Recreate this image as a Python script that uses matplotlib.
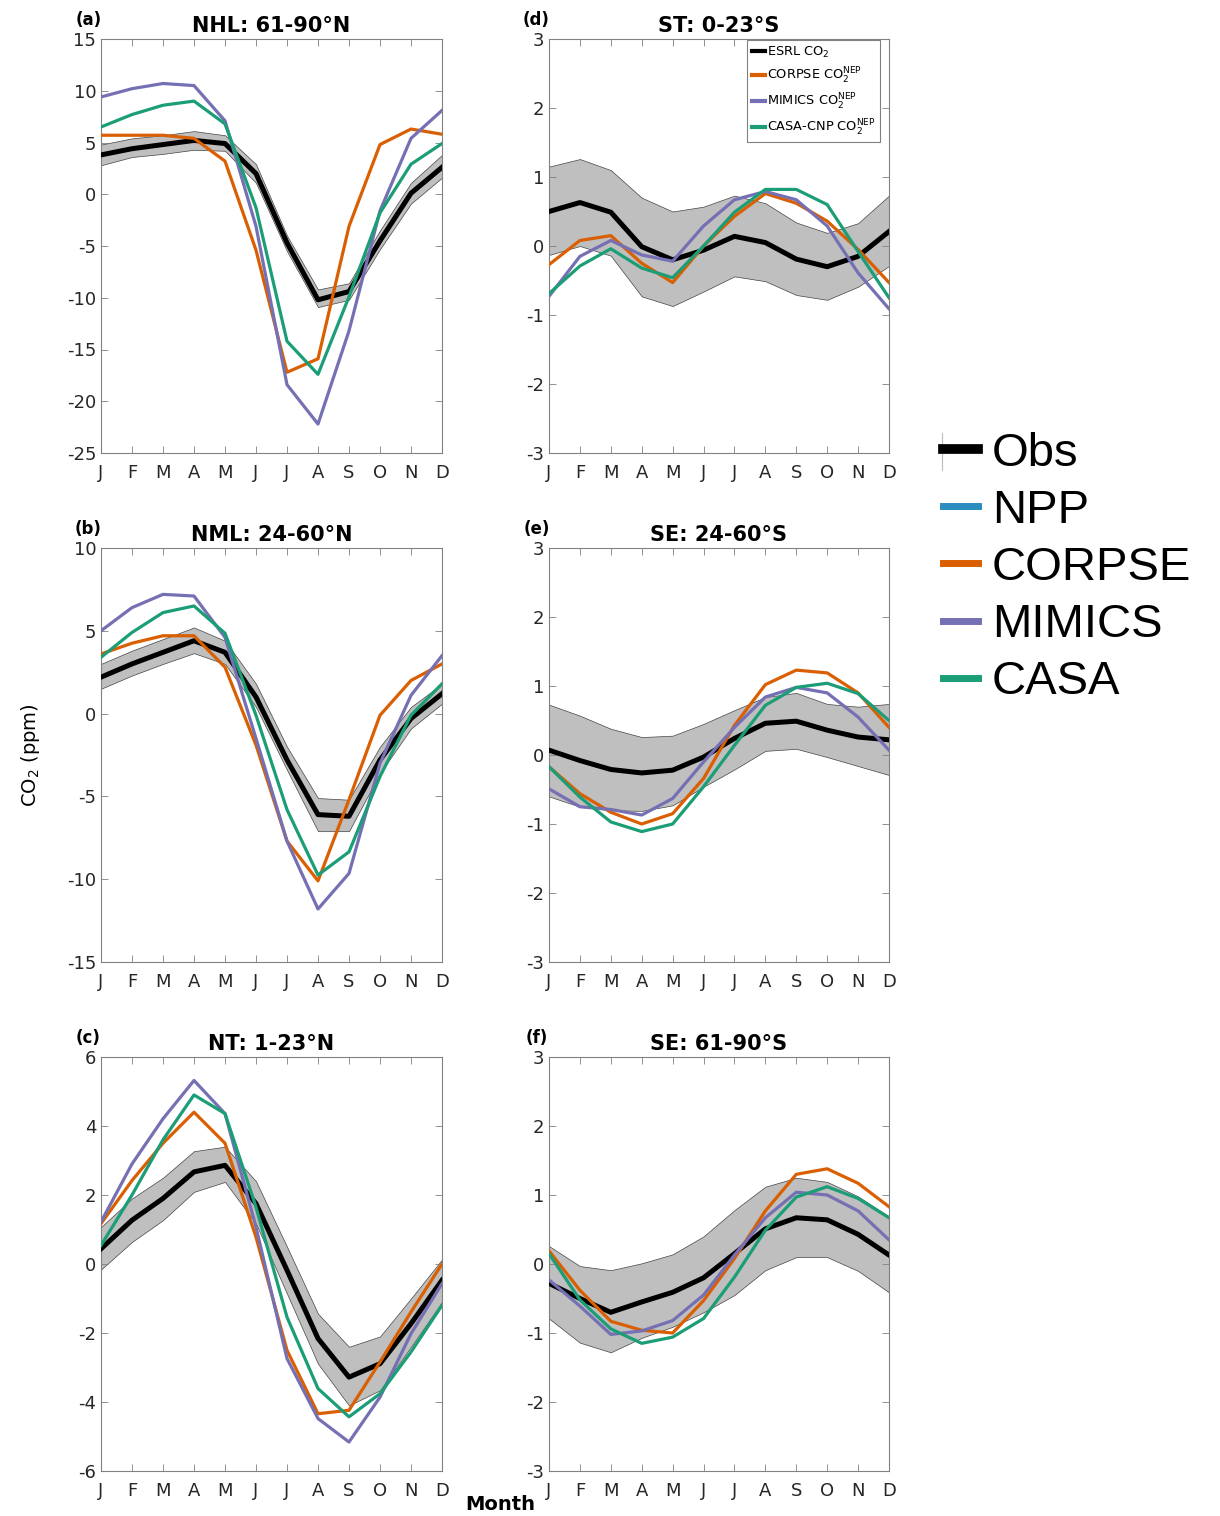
import matplotlib
matplotlib.use('Agg')
import matplotlib.pyplot as plt
from matplotlib.lines import Line2D

plt.rcParams['font.family'] = ['DejaVu Sans']
plt.rcParams['axes.unicode_minus'] = False

months = list(range(1, 13))
month_labels = ['J', 'F', 'M', 'A', 'M', 'J', 'J', 'A', 'S', 'O', 'N', 'D']

# panel (a) NHL
a_obs = [3.8, 4.4, 4.8, 5.2, 4.9, 2.0, -4.7, -10.2, -9.4, -4.5, 0.1, 2.6]
a_hi = [4.8, 5.4, 5.7, 6.1, 5.7, 2.9, -4.0, -9.2, -8.6, -3.5, 1.1, 3.8]
a_lo = [2.8, 3.6, 3.9, 4.3, 4.2, 1.1, -5.5, -10.9, -10.2, -5.3, -0.9, 1.6]
a_corpse = [5.7, 5.7, 5.7, 5.4, 3.2, -5.4, -17.2, -15.9, -3.1, 4.8, 6.3, 5.8]
a_mimics = [9.4, 10.2, 10.7, 10.5, 7.1, -3.1, -18.4, -22.2, -13.2, -1.6, 5.4, 8.1]
a_casa = [6.5, 7.7, 8.6, 9.0, 6.8, -1.3, -14.2, -17.4, -9.9, -1.8, 2.9, 4.9]

# panel (b) NML
b_obs = [2.2, 3.0, 3.7, 4.4, 3.7, 1.0, -2.8, -6.1, -6.2, -2.8, -0.3, 1.2]
b_hi = [3.0, 3.8, 4.5, 5.2, 4.4, 1.8, -2.0, -5.1, -5.2, -2.0, 0.4, 1.8]
b_lo = [1.5, 2.3, 3.0, 3.65, 3.0, 0.4, -3.4, -7.1, -7.1, -3.6, -0.9, 0.6]
b_corpse = [3.6, 4.25, 4.7, 4.7, 2.8, -1.9, -7.7, -10.1, -5.2, -0.1, 2.0, 3.0]
b_mimics = [5.0, 6.4, 7.2, 7.1, 4.6, -1.5, -7.7, -11.8, -9.65, -3.0, 1.1, 3.5]
b_casa = [3.4, 4.9, 6.1, 6.5, 4.85, -0.1, -5.8, -9.75, -8.35, -3.8, -0.1, 1.8]

# panel (c) NT
c_obs = [0.44, 1.27, 1.9, 2.67, 2.86, 1.75, -0.18, -2.16, -3.28, -2.89, -1.73, -0.47]
c_hi = [1.07, 1.9, 2.5, 3.27, 3.4, 2.4, 0.5, -1.44, -2.4, -2.1, -1.0, 0.13]
c_lo = [-0.16, 0.64, 1.27, 2.09, 2.38, 1.17, -0.86, -2.89, -4.1, -3.66, -2.4, -1.1]
c_corpse = [1.17, 2.42, 3.5, 4.4, 3.5, 0.78, -2.5, -4.34, -4.24, -2.84, -1.39, 0.0]
c_mimics = [1.22, 2.9, 4.21, 5.32, 4.36, 1.07, -2.74, -4.48, -5.16, -3.86, -2.02, -0.57]
c_casa = [0.54, 2.0, 3.6, 4.9, 4.36, 1.65, -1.54, -3.61, -4.43, -3.76, -2.55, -1.2]

# panel (d) ST
d_obs = [0.50, 0.63, 0.49, -0.01, -0.2, -0.06, 0.14, 0.05, -0.19, -0.30, -0.15, 0.21]
d_hi = [1.15, 1.26, 1.10, 0.70, 0.50, 0.57, 0.73, 0.62, 0.34, 0.19, 0.33, 0.73]
d_lo = [-0.13, 0.0, -0.14, -0.73, -0.87, -0.66, -0.44, -0.51, -0.71, -0.78, -0.59, -0.29]
d_corpse = [-0.27, 0.08, 0.15, -0.25, -0.53, 0.0, 0.43, 0.76, 0.62, 0.36, -0.05, -0.53]
d_mimics = [-0.73, -0.15, 0.08, -0.13, -0.22, 0.29, 0.67, 0.79, 0.67, 0.29, -0.39, -0.91]
d_casa = [-0.69, -0.29, -0.04, -0.32, -0.46, 0.0, 0.49, 0.82, 0.82, 0.60, -0.08, -0.75]

# panel (e) SE 24-60S
e_obs = [0.07, -0.08, -0.21, -0.26, -0.22, -0.03, 0.24, 0.46, 0.49, 0.36, 0.26, 0.22]
e_hi = [0.73, 0.57, 0.38, 0.26, 0.28, 0.45, 0.65, 0.84, 0.90, 0.74, 0.70, 0.74]
e_lo = [-0.60, -0.75, -0.80, -0.81, -0.73, -0.46, -0.21, 0.06, 0.09, -0.03, -0.16, -0.29]
e_corpse = [-0.17, -0.56, -0.83, -1.0, -0.85, -0.34, 0.43, 1.02, 1.23, 1.19, 0.90, 0.40]
e_mimics = [-0.49, -0.75, -0.79, -0.87, -0.63, -0.10, 0.40, 0.84, 0.98, 0.90, 0.55, 0.07]
e_casa = [-0.17, -0.61, -0.97, -1.11, -1.0, -0.46, 0.14, 0.72, 0.98, 1.04, 0.89, 0.50]

# panel (f) SE 61-90S
f_obs = [-0.28, -0.50, -0.70, -0.55, -0.41, -0.20, 0.15, 0.51, 0.67, 0.64, 0.43, 0.13]
f_hi = [0.26, -0.03, -0.09, 0.01, 0.14, 0.40, 0.78, 1.12, 1.25, 1.19, 0.98, 0.69]
f_lo = [-0.79, -1.14, -1.28, -1.07, -0.91, -0.70, -0.45, -0.09, 0.10, 0.10, -0.10, -0.41]
f_corpse = [0.19, -0.38, -0.83, -0.96, -1.0, -0.53, 0.08, 0.77, 1.30, 1.38, 1.17, 0.83]
f_mimics = [-0.23, -0.61, -1.02, -0.97, -0.82, -0.45, 0.13, 0.67, 1.04, 1.0, 0.77, 0.35]
f_casa = [0.15, -0.52, -0.94, -1.15, -1.06, -0.79, -0.19, 0.49, 0.97, 1.12, 0.95, 0.67]

c_corpse_col = '#d95f02'
c_mimics_col = '#7570b3'
c_casa_col = '#1b9e77'
c_npp_col = '#2b8cbe'

panels = [
    ('(a)', 'NHL: 61-90°N', (-25, 15), [15, 10, 5, 0, -5, -10, -15, -20, -25],
     a_obs, a_hi, a_lo, a_corpse, a_mimics, a_casa),
    ('(b)', 'NML: 24-60°N', (-15, 10), [10, 5, 0, -5, -10, -15],
     b_obs, b_hi, b_lo, b_corpse, b_mimics, b_casa),
    ('(c)', 'NT: 1-23°N', (-6, 6), [6, 4, 2, 0, -2, -4, -6],
     c_obs, c_hi, c_lo, c_corpse, c_mimics, c_casa),
    ('(d)', 'ST: 0-23°S', (-3, 3), [3, 2, 1, 0, -1, -2, -3],
     d_obs, d_hi, d_lo, d_corpse, d_mimics, d_casa),
    ('(e)', 'SE: 24-60°S', (-3, 3), [3, 2, 1, 0, -1, -2, -3],
     e_obs, e_hi, e_lo, e_corpse, e_mimics, e_casa),
    ('(f)', 'SE: 61-90°S', (-3, 3), [3, 2, 1, 0, -1, -2, -3],
     f_obs, f_hi, f_lo, f_corpse, f_mimics, f_casa),
]

W, H = 1220, 1516
fig = plt.figure(figsize=(W / 100, H / 100), dpi=100)

col_left = [101, 549]
col_width = [341, 340]
row_top = [39, 548, 1057]
ax_h = 414

for i, (tag, title, ylim, yticks, obs, hi, lo, corpse, mimics, casa) in enumerate(panels):
    col = i // 3
    row = i % 3
    l = col_left[col] / W
    b = 1 - (row_top[row] + ax_h) / H
    ax = fig.add_axes([l, b, col_width[col] / W, ax_h / H])

    ax.fill_between(months, lo, hi, facecolor='#bfbfbf', edgecolor='#444444', linewidth=0.5, zorder=1)
    ax.plot(months, obs, color='k', lw=3.6, zorder=3, label='ESRL CO$_2$')
    ax.plot(months, corpse, color=c_corpse_col, lw=2.3, zorder=4, label=r'CORPSE CO$_2^{\mathrm{NEP}}$')
    ax.plot(months, mimics, color=c_mimics_col, lw=2.3, zorder=4, label=r'MIMICS CO$_2^{\mathrm{NEP}}$')
    ax.plot(months, casa, color=c_casa_col, lw=2.3, zorder=4, label=r'CASA-CNP CO$_2^{\mathrm{NEP}}$')

    ax.set_xlim(1, 12)
    ax.set_ylim(*ylim)
    ax.set_xticks(months)
    ax.set_xticklabels(month_labels)
    ax.set_yticks(yticks)
    ax.tick_params(direction='in', length=5, width=0.6, color='#808080',
                   top=True, right=True, labelsize=13, labelcolor='#262626')
    ax.tick_params(axis='x', pad=8)
    for s in ax.spines.values():
        s.set_color('#808080')
        s.set_linewidth(0.8)

    ax.set_title(title, fontsize=15, fontweight='bold', pad=5)
    ax.text(-0.037, 1.045, tag, transform=ax.transAxes, fontsize=12,
            fontweight='bold', ha='center', va='center')

    if tag == '(d)':
        leg = ax.legend(loc='upper right', bbox_to_anchor=(0.9735, 0.997),
                        fontsize=9.3, handlelength=1.0,
                        handletextpad=0.15, labelspacing=0.45, borderpad=0.35,
                        borderaxespad=0, fancybox=False, framealpha=1)
        leg.get_frame().set_edgecolor('#808080')
        leg.get_frame().set_linewidth(0.8)
        for ln in leg.get_lines():
            ln.set_linewidth(3)

fig.text(30 / W, 1 - 755 / H, 'CO$_2$ (ppm)', rotation=90, ha='center', va='center', fontsize=14)
fig.text(500 / W, 1 - 1505 / H, 'Month', ha='center', va='center', fontsize=14, fontweight='bold')

# big legend on the right
big_names = ['Obs', 'NPP', 'CORPSE', 'MIMICS', 'CASA']
big_cols = ['k', c_npp_col, c_corpse_col, c_mimics_col, c_casa_col]
handles = [Line2D([0], [0], color=c, lw=(7 if n == 'Obs' else 5)) for n, c in zip(big_names, big_cols)]
fig.legend(handles, big_names, loc='center left', bbox_to_anchor=(900 / W, 1 - 568 / H),
           frameon=False, handlelength=0.75, handletextpad=0.3,
           labelspacing=0.28, prop={'family': 'Liberation Sans', 'size': 34})
fig.add_artist(Line2D([942 / W, 942 / W], [1 - 433 / H, 1 - 470 / H], color='#bbbbbb', lw=0.8))

fig.savefig('out.png', dpi=100)
